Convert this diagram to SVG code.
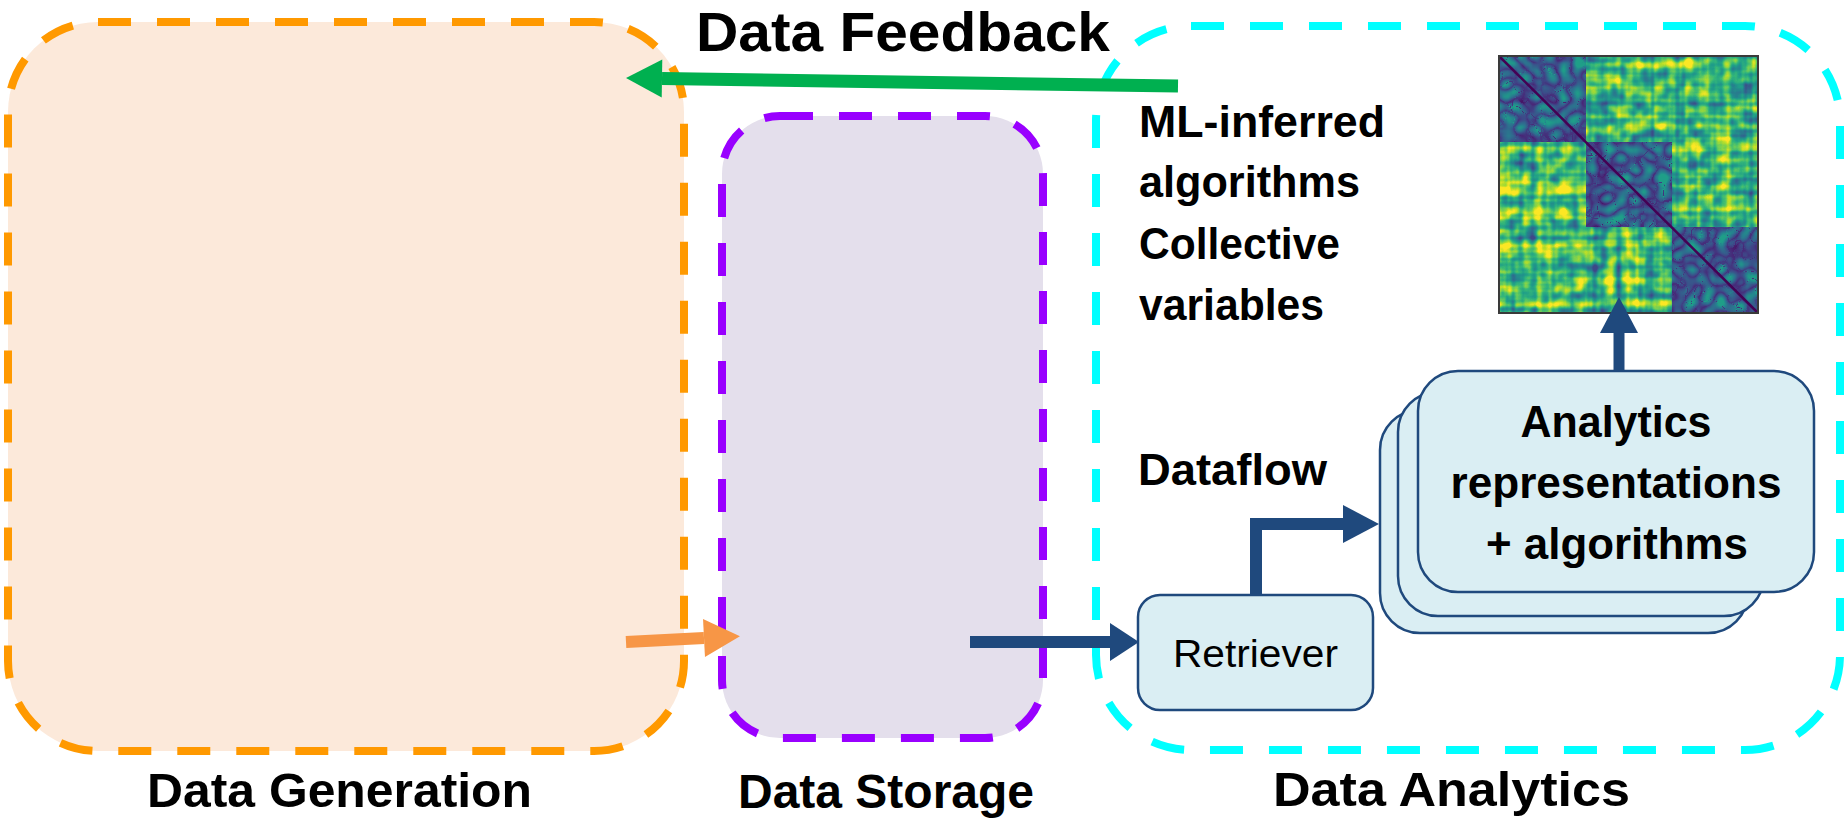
<svg xmlns="http://www.w3.org/2000/svg" width="1845" height="820" viewBox="0 0 1845 820">
  <style>
    .zone { stroke-width: 8; stroke-dasharray: 33 26; }
    .lbl { font-family: "Liberation Sans", Arial, sans-serif; font-weight: bold; fill: #000; }
    .reg { font-family: "Liberation Sans", Arial, sans-serif; fill: #000; }
    .box { fill: #DAEEF3; stroke: #1F497D; stroke-width: 2.5; }
  </style>
  <defs>
    <marker id="hGreen" markerUnits="userSpaceOnUse" markerWidth="36" markerHeight="38" viewBox="0 -19 36 38" refX="0" refY="0" orient="auto" overflow="visible">
      <path d="M0,-19 L36,0 L0,19 Z" fill="#00B050"/>
    </marker>
    <marker id="hOrange" markerUnits="userSpaceOnUse" markerWidth="36" markerHeight="38" viewBox="0 -19 36 38" refX="0" refY="0" orient="auto" overflow="visible">
      <path d="M0,-19 L36,0 L0,19 Z" fill="#F79646"/>
    </marker>
    <marker id="hBlue" markerUnits="userSpaceOnUse" markerWidth="36" markerHeight="38" viewBox="0 -19 36 38" refX="0" refY="0" orient="auto" overflow="visible">
      <path d="M0,-19 L36,0 L0,19 Z" fill="#1F497D"/>
    </marker>
    <marker id="hBlueShort" markerUnits="userSpaceOnUse" markerWidth="29" markerHeight="38" viewBox="0 -19 29 38" refX="0" refY="0" orient="auto" overflow="visible">
      <path d="M0,-19 L29,0 L0,19 Z" fill="#1F497D"/>
    </marker>

    <!-- off-diagonal blocks: plaid green texture with yellow highlights -->
    <filter id="hmOff" x="0" y="0" width="1" height="1" color-interpolation-filters="sRGB">
      <feTurbulence type="fractalNoise" baseFrequency="0.13 0.003" numOctaves="2" seed="4" result="vx0"/>
      <feColorMatrix in="vx0" type="matrix" values="1 0 0 0 0  1 0 0 0 0  1 0 0 0 0  0 0 0 0 1" result="vx"/>
      <feTurbulence type="fractalNoise" baseFrequency="0.003 0.13" numOctaves="2" seed="4" result="hy0"/>
      <feColorMatrix in="hy0" type="matrix" values="1 0 0 0 0  1 0 0 0 0  1 0 0 0 0  0 0 0 0 1" result="hy"/>
      <feTurbulence type="fractalNoise" baseFrequency="0.07" numOctaves="2" seed="11" result="bl0"/>
      <feColorMatrix in="bl0" type="matrix" values="1 0 0 0 0  1 0 0 0 0  1 0 0 0 0  0 0 0 0 1" result="bl"/>
      <feComposite in="vx" in2="hy" operator="arithmetic" k2="0.5" k3="0.5" result="pl"/>
      <feComposite in="pl" in2="bl" operator="arithmetic" k2="0.6" k3="0.4" result="mix"/>
      <feColorMatrix in="mix" type="matrix" values="3 0 0 0 -0.9  3 0 0 0 -0.9  3 0 0 0 -0.9  0 0 0 0 1" result="st"/>
      <feComponentTransfer in="st">
        <feFuncR type="table" tableValues="0.243 0.192 0.149 0.122 0.208 0.431 0.710 0.992"/>
        <feFuncG type="table" tableValues="0.286 0.408 0.510 0.620 0.718 0.808 0.871 0.906"/>
        <feFuncB type="table" tableValues="0.537 0.557 0.557 0.537 0.475 0.345 0.169 0.145"/>
      </feComponentTransfer>
    </filter>

    <!-- diagonal blocks: blue texture with purple ridges -->
    <filter id="hmDiag" x="0" y="0" width="1" height="1" color-interpolation-filters="sRGB">
      <feTurbulence type="turbulence" baseFrequency="0.07" numOctaves="1" seed="7" result="t0"/>
      <feColorMatrix in="t0" type="matrix" values="1 0 0 0 0  1 0 0 0 0  1 0 0 0 0  0 0 0 0 1" result="t"/>
      <feTurbulence type="fractalNoise" baseFrequency="0.13 0.003" numOctaves="2" seed="4" result="vx0"/>
      <feColorMatrix in="vx0" type="matrix" values="1 0 0 0 0  1 0 0 0 0  1 0 0 0 0  0 0 0 0 1" result="vx"/>
      <feTurbulence type="fractalNoise" baseFrequency="0.003 0.13" numOctaves="2" seed="4" result="hy0"/>
      <feColorMatrix in="hy0" type="matrix" values="1 0 0 0 0  1 0 0 0 0  1 0 0 0 0  0 0 0 0 1" result="hy"/>
      <feComposite in="vx" in2="hy" operator="arithmetic" k2="0.5" k3="0.5" result="pl"/>
      <feComposite in="t" in2="pl" operator="arithmetic" k2="1.5" k3="0.6" k4="-0.02" result="mix"/>
      <feComponentTransfer in="mix">
        <feFuncR type="table" tableValues="0.267 0.282 0.243 0.192 0.149 0.122"/>
        <feFuncG type="table" tableValues="0.004 0.157 0.286 0.408 0.510 0.620"/>
        <feFuncB type="table" tableValues="0.329 0.471 0.537 0.557 0.557 0.537"/>
      </feComponentTransfer>
    </filter>
  </defs>

  <rect width="1845" height="820" fill="#FFFFFF"/>

  <!-- stage regions -->
  <g id="data-generation">
    <rect class="zone" x="8" y="22" width="676" height="729" rx="90" ry="90" fill="#FCE9DA" stroke="#FF9900"/>
    <text class="lbl" x="147" y="807" font-size="48" textLength="385" lengthAdjust="spacingAndGlyphs">Data Generation</text>
  </g>

  <g id="data-storage">
    <rect class="zone" x="722" y="116" width="321" height="622" rx="58" ry="58" fill="#E4DFEC" stroke="#9900FF"/>
    <text class="lbl" x="738" y="808" font-size="48" textLength="296" lengthAdjust="spacingAndGlyphs">Data Storage</text>
  </g>

  <g id="data-analytics">
    <rect class="zone" x="1096" y="26" width="744" height="724" rx="95" ry="95" fill="none" stroke="#00FFFF"/>
    <text class="lbl" x="1273" y="806" font-size="48" textLength="357" lengthAdjust="spacingAndGlyphs">Data Analytics</text>
  </g>

  <g id="feedback-label">
    <text class="lbl" x="696" y="51" font-size="55" textLength="414" lengthAdjust="spacingAndGlyphs">Data Feedback</text>
  </g>

  <g id="outputs-label">
    <text class="lbl" x="1139" y="137" font-size="44" textLength="246" lengthAdjust="spacingAndGlyphs">ML-inferred</text>
    <text class="lbl" x="1139" y="197" font-size="44" textLength="221" lengthAdjust="spacingAndGlyphs">algorithms</text>
    <text class="lbl" x="1139" y="259" font-size="44" textLength="201" lengthAdjust="spacingAndGlyphs">Collective</text>
    <text class="lbl" x="1139" y="320" font-size="44" textLength="185" lengthAdjust="spacingAndGlyphs">variables</text>
  </g>

  <g id="dataflow-label">
    <text class="lbl" x="1138" y="485" font-size="44" textLength="189" lengthAdjust="spacingAndGlyphs">Dataflow</text>
  </g>

  <!-- distance-matrix heat map -->
  <g id="heatmap">
    <rect x="1499" y="56" width="259" height="257" fill="#21918C" filter="url(#hmOff)"/>
    <rect x="1499" y="56" width="87" height="86" fill="#3B528B" filter="url(#hmDiag)"/>
    <rect x="1586" y="142" width="86" height="85" fill="#3B528B" filter="url(#hmDiag)"/>
    <rect x="1672" y="227" width="86" height="86" fill="#3B528B" filter="url(#hmDiag)"/>
    <line x1="1499" y1="56" x2="1758" y2="313" stroke="#440154" stroke-width="2.5"/>
    <rect x="1499" y="56" width="259" height="257" fill="none" stroke="#3A3A3A" stroke-width="2"/>
  </g>

  <!-- stacked analytics modules -->
  <g id="analytics">
    <rect class="box" x="1380" y="410" width="368" height="223" rx="40" ry="40"/>
    <rect class="box" x="1398" y="392" width="366" height="224" rx="40" ry="40"/>
    <rect class="box" x="1418" y="371" width="396" height="221" rx="40" ry="40"/>
    <text class="lbl" x="1616" y="437" font-size="44" text-anchor="middle" textLength="191" lengthAdjust="spacingAndGlyphs">Analytics</text>
    <text class="lbl" x="1616" y="498" font-size="44" text-anchor="middle" textLength="331" lengthAdjust="spacingAndGlyphs">representations</text>
    <text class="lbl" x="1617" y="559" font-size="44" text-anchor="middle" textLength="262" lengthAdjust="spacingAndGlyphs">+ algorithms</text>
  </g>

  <g id="retriever">
    <rect class="box" x="1138" y="595" width="235" height="115" rx="22" ry="22"/>
    <text class="reg" x="1173" y="667" font-size="38" textLength="165" lengthAdjust="spacingAndGlyphs">Retriever</text>
  </g>

  <!-- connectors -->
  <g id="connectors" fill="none">
    <line x1="1178" y1="86" x2="662" y2="78.5" stroke="#00B050" stroke-width="13" marker-end="url(#hGreen)"/>
    <line x1="626" y1="642" x2="704" y2="638" stroke="#F79646" stroke-width="12" marker-end="url(#hOrange)"/>
    <line x1="970" y1="642" x2="1110" y2="642" stroke="#1F497D" stroke-width="12" marker-end="url(#hBlueShort)"/>
    <path d="M1256,596 V524 H1343" stroke="#1F497D" stroke-width="12" marker-end="url(#hBlue)"/>
    <line x1="1619" y1="371" x2="1619" y2="333" stroke="#1F497D" stroke-width="11" marker-end="url(#hBlue)"/>
  </g>
</svg>
